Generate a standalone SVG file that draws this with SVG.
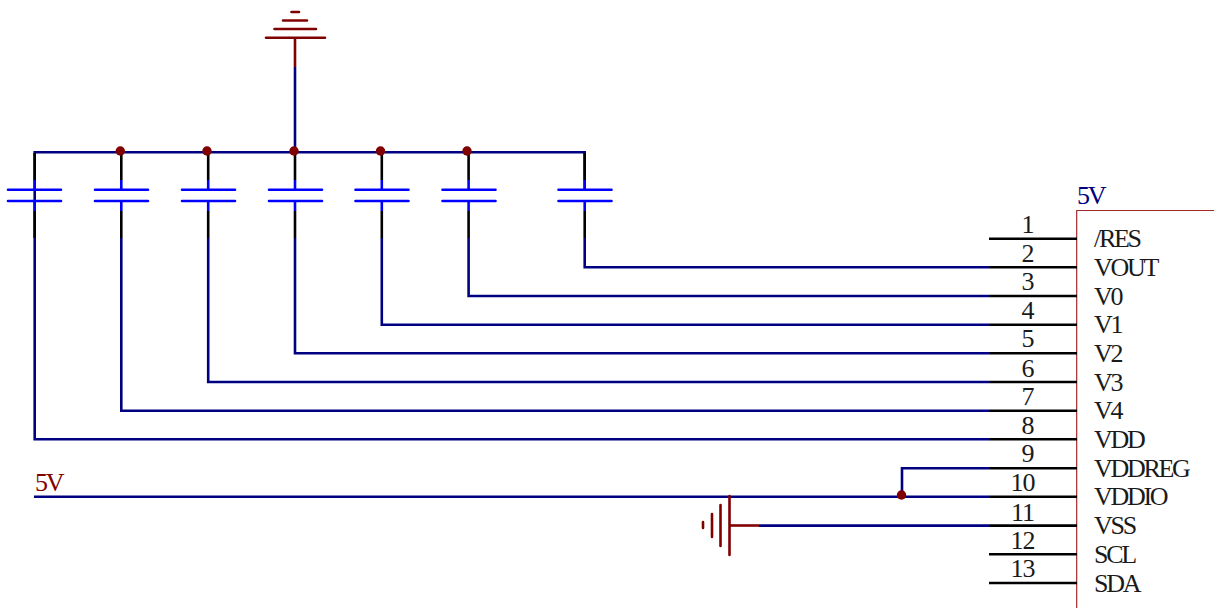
<svg xmlns="http://www.w3.org/2000/svg" width="1214" height="608" viewBox="0 0 1214 608">
<style>
text{font-family:"Liberation Serif","Times New Roman",serif;font-size:26px;letter-spacing:-2.3px}
.n{fill:#1a1a1a;letter-spacing:-1px;text-anchor:middle}
.l{fill:#1a1a1a}
path,line{fill:none;stroke-linecap:round}
.w{stroke:#000080;stroke-width:2.6;stroke-linecap:butt}
.b{stroke:#000;stroke-width:2.6;stroke-linecap:butt}
.c{stroke:#0000ff;stroke-width:2.6}
.cp{stroke:#0000ff;stroke-width:2.6;stroke-linecap:butt}
.r{stroke:#800000;stroke-width:2.6}
.j{fill:#800000}
</style>
<g id="connectors">
<path class="w" d="M34.700 239V152.300H584.700V190M34.700 238V439.200H990"/>
<path class="w" d="M121.300 238V410.700H990M208.200 238V382H990M295 238V353.300H990M381.800 238V324.700H990M468.600 238V296H990M584.700 238V267.300H990"/>
<path class="w" d="M295 67V152"/>
<path class="w" d="M34 496.700H990M902 496.700V468.200H990M759 525.600H990"/>
</g>
<g id="C1"><path class="b" d="M34.700 153V180M34.700 211V238"/><path class="cp" d="M34.700 180V190M34.700 201V211"/><path class="c" d="M8 189.700H61M8 201H61"/></g>
<g id="C2"><path class="b" d="M121.300 153V180M121.300 211V238"/><path class="cp" d="M121.300 180V190M121.300 201V211"/><path class="c" d="M95 189.700H148M95 201H148"/></g>
<g id="C3"><path class="b" d="M208.200 153V180M208.200 211V238"/><path class="cp" d="M208.200 180V190M208.200 201V211"/><path class="c" d="M182 189.700H235M182 201H235"/></g>
<g id="C4"><path class="b" d="M295 153V180M295 211V238"/><path class="cp" d="M295 180V190M295 201V211"/><path class="c" d="M269 189.700H322M269 201H322"/></g>
<g id="C5"><path class="b" d="M381.800 153V180M381.800 211V238"/><path class="cp" d="M381.800 180V190M381.800 201V211"/><path class="c" d="M355.500 189.700H408.500M355.500 201H408.500"/></g>
<g id="C6"><path class="b" d="M468.600 153V180M468.600 211V238"/><path class="cp" d="M468.600 180V190M468.600 201V211"/><path class="c" d="M442.500 189.700H495.500M442.500 201H495.500"/></g>
<g id="C7"><path class="b" d="M584.700 153V180M584.700 211V238"/><path class="cp" d="M584.700 180V190M584.700 201V211"/><path class="c" d="M558.500 189.700H611.500M558.500 201H611.500"/></g>
<g id="gnd-top"><path class="r" style="stroke-linecap:butt" d="M295 38V67"/><path class="r" d="M266 37.700H325M274.500 29H316M283 20.500H307M291.500 12H299"/></g>
<g id="gnd-left"><path class="r" style="stroke-linecap:butt" d="M730 525.500H759"/><path class="r" d="M729.500 496V555M720.500 505V546M712 514V537M703 522V528"/></g>
<g id="junctions">
<circle class="j" cx="120.300" cy="151" r="4.700"/><circle class="j" cx="207" cy="151" r="4.700"/><circle class="j" cx="294" cy="151" r="4.700"/><circle class="j" cx="380.500" cy="151" r="4.700"/><circle class="j" cx="467" cy="151" r="4.700"/><circle class="j" cx="901.500" cy="495" r="4.700"/>
</g>
<text x="35" y="491" fill="#800000">5V</text>
<g id="U1">
<path d="M1214 210.500H1076.700V608" stroke="#a52a2a" stroke-width="1.200" fill="none" style="stroke-linecap:butt"/>
<text x="1077" y="204" fill="#000080">5V</text>
<path class="b" d="M989 238.700H1077M990 267.300H1077M990 296H1077M990 324.700H1077M990 353.300H1077M990 382H1077M990 410.700H1077M990 439.200H1077M990 468.200H1077M990 496.700H1077M990 525.600H1077M989 554.300H1077M989 583H1077"/>
<text class="n" x="1027.500" y="233">1</text><text class="n" x="1027.500" y="262">2</text><text class="n" x="1027.500" y="290">3</text><text class="n" x="1027.500" y="319">4</text><text class="n" x="1027.500" y="347">5</text><text class="n" x="1027.500" y="377">6</text><text class="n" x="1027.500" y="405">7</text><text class="n" x="1027.500" y="434">8</text><text class="n" x="1027.500" y="462">9</text><text class="n" x="1022.500" y="491">10</text><text class="n" x="1022.500" y="521">11</text><text class="n" x="1022.500" y="549">12</text><text class="n" x="1022.500" y="577">13</text>
<text class="l" x="1094" y="247">/RES</text><text class="l" x="1094" y="276">VOUT</text><text class="l" x="1094" y="305">V0</text><text class="l" x="1094" y="333">V1</text><text class="l" x="1094" y="362">V2</text><text class="l" x="1094" y="391">V3</text><text class="l" x="1094" y="419">V4</text><text class="l" x="1094" y="448">VDD</text><text class="l" x="1094" y="477">VDDREG</text><text class="l" x="1094" y="505">VDDIO</text><text class="l" x="1094" y="534">VSS</text><text class="l" x="1094" y="563">SCL</text><text class="l" x="1094" y="592">SDA</text>
</g>
</svg>
